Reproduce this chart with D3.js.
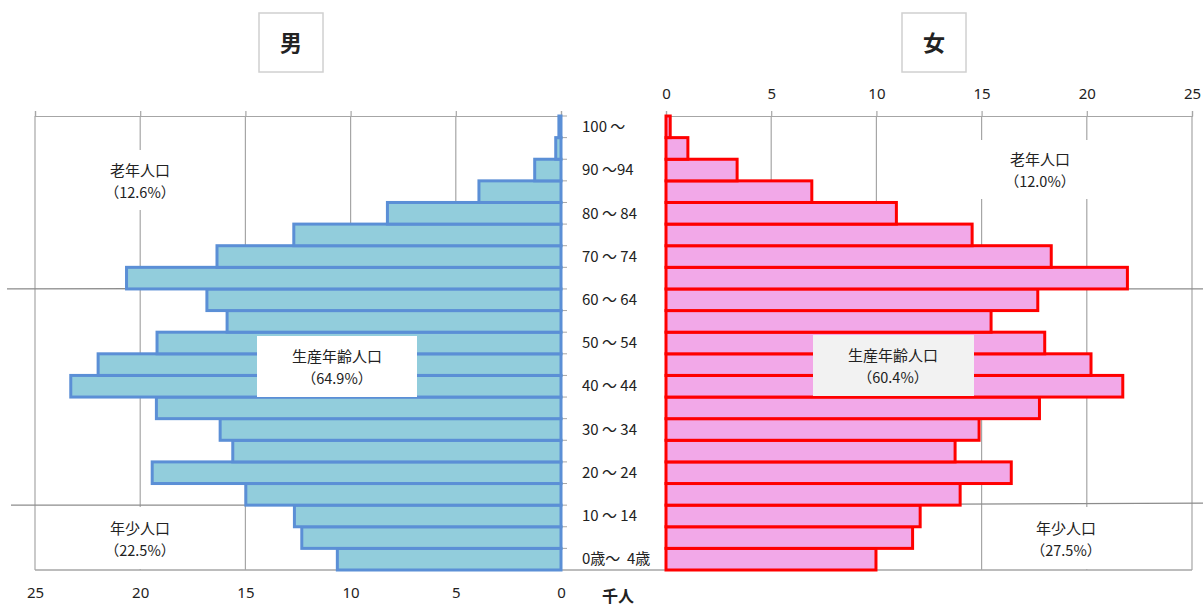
<!DOCTYPE html>
<html>
<head>
<meta charset="utf-8">
<script src="https://cdn.jsdelivr.net/npm/d3@7"></script>
<style>
  body { margin: 0; background: #fff; }
  text { font-family: "Noto Sans CJK JP", "Noto Sans", sans-serif; fill: #222; white-space: pre; }
</style>
</head>
<body>
<div id="chart"></div>
<script>

// age groups, bottom to top
var ageGroups = ["0-4", "5-9", "10-14", "15-19", "20-24", "25-29", "30-34", "35-39", "40-44", "45-49",
  "50-54", "55-59", "60-64", "65-69", "70-74", "75-79", "80-84", "85-89", "90-94", "95-99", "100+"]
// text shown next to every other group
var ageText = {"0-4": "0歳～  4歳", "10-14": "10 ～ 14", "20-24": "20 ～ 24", "30-34": "30 ～ 34",
  "40-44": "40 ～ 44", "50-54": "50 ～ 54", "60-64": "60 ～ 64", "70-74": "70 ～ 74",
  "80-84": "80 ～ 84", "90-94": "90 ～94", "100+": "100 ～"}

// thousands of people
var male = [10.63, 12.32, 12.67, 14.98, 19.43, 15.6, 16.2, 19.23, 23.3, 22.0,
  19.2, 15.87, 16.83, 20.65, 16.35, 12.7, 8.25, 3.9, 1.25, 0.25, 0.1]
var female = [9.98, 11.72, 12.08, 13.98, 16.41, 13.74, 14.88, 17.75, 21.71, 20.2,
  18.0, 15.45, 17.67, 21.93, 18.31, 14.55, 10.95, 6.93, 3.38, 1.04, 0.2]

var tickValues = [0, 5, 10, 15, 20, 25]

// region notes: [label, share]
var maleNotes = [["老年人口", "（12.6%）"], ["生産年齢人口", "（64.9%）"], ["年少人口", "（22.5%）"]]
var femaleNotes = [["老年人口", "（12.0%）"], ["生産年齢人口", "（60.4%）"], ["年少人口", "（27.5%）"]]

var W = 1203, H = 608
var plotTop = 116, plotBottom = 570

var svg = d3.select("#chart").append("svg")
  .attr("width", W).attr("height", H)

var xL = d3.scaleLinear().domain([25, 0]).range([35, 561])
var xR = d3.scaleLinear().domain([0, 25]).range([666, 1192])
var y = d3.scaleBand().domain(ageGroups.slice().reverse()).range([plotTop, plotBottom]).padding(0)

var gridColor = "#a6a6a6"

// vertical grid lines
svg.append("g").selectAll("line").data(tickValues).enter().append("line")
  .attr("x1", d => xL(d)).attr("x2", d => xL(d))
  .attr("y1", plotTop).attr("y2", plotBottom)
  .attr("stroke", gridColor).attr("stroke-width", 1.2)
svg.append("g").selectAll("line").data(tickValues).enter().append("line")
  .attr("x1", d => xR(d)).attr("x2", d => xR(d))
  .attr("y1", plotTop).attr("y2", plotBottom)
  .attr("stroke", gridColor).attr("stroke-width", 1.2)

// top axes (left without labels, right with labels)
var axL = svg.append("g").attr("transform", "translate(0," + plotTop + ")")
  .call(d3.axisTop(xL).tickValues(tickValues).tickSize(5).tickFormat(""))
var axR = svg.append("g").attr("transform", "translate(0," + plotTop + ")")
  .call(d3.axisTop(xR).tickValues(tickValues).tickSize(5).tickPadding(12))
// bottom labels of the left side
var axB = svg.append("g").attr("transform", "translate(0," + plotBottom + ")")
  .call(d3.axisBottom(xL).tickValues(tickValues).tickSize(0).tickPadding(17))
axB.select(".domain").remove()
;[axL, axR, axB].forEach(function (a) {
  a.selectAll(".domain, line").attr("stroke", gridColor).attr("stroke-width", 1.2)
  a.selectAll("text").style("font-family", "'Noto Sans', sans-serif").style("font-size", "15px").attr("fill", "#222")
})

// bottom line runs across both sides
svg.append("line").attr("x1", 35).attr("x2", 1192).attr("y1", plotBottom).attr("y2", plotBottom)
  .attr("stroke", gridColor).attr("stroke-width", 1.5)

// small ticks at group boundaries, right of the male side
svg.append("g").selectAll("line").data(ageGroups).enter().append("line")
  .attr("x1", 561).attr("x2", 567)
  .attr("y1", d => y(d)).attr("y2", d => y(d))
  .attr("stroke", gridColor)

// region dividers (old / working / young)
var divider = svg.append("g").attr("stroke", "#8c8c8c").attr("stroke-width", 1.3)
var yOld = y("65-69") + y.bandwidth(), yYoung = y("15-19") + y.bandwidth()
divider.append("line").attr("x1", 7).attr("x2", 561).attr("y1", yOld).attr("y2", yOld - 1)
divider.append("line").attr("x1", 666).attr("x2", 1203).attr("y1", yOld).attr("y2", yOld)
divider.append("line").attr("x1", 11).attr("x2", 561).attr("y1", yYoung).attr("y2", yYoung)
divider.append("line").attr("x1", 666).attr("x2", 1203).attr("y1", yYoung).attr("y2", yYoung - 2)

// bars
svg.append("g").selectAll("rect").data(male).enter().append("rect")
  .attr("x", d => xL(d)).attr("width", d => xL(0) - xL(d))
  .attr("y", (d, i) => y(ageGroups[i])).attr("height", y.bandwidth())
  .attr("fill", "#92cddc").attr("stroke", "#5b8fd6").attr("stroke-width", 3)
svg.append("g").selectAll("rect").data(female).enter().append("rect")
  .attr("x", xR(0)).attr("width", d => xR(d) - xR(0))
  .attr("y", (d, i) => y(ageGroups[i])).attr("height", y.bandwidth())
  .attr("fill", "#f2a8e8").attr("stroke", "#ff0000").attr("stroke-width", 3)

// age labels
svg.append("g").selectAll("text").data(ageGroups.filter(d => ageText[d])).enter().append("text")
  .attr("x", 582).attr("y", d => y(d) + y.bandwidth() / 2)
  .attr("dy", "0.35em").style("font-size", "15px")
  .text(d => ageText[d])

// note boxes
function note(n, cx, cy, box, fill) {
  svg.append("rect").attr("x", box[0]).attr("y", box[1]).attr("width", box[2]).attr("height", box[3])
    .attr("fill", fill)
  svg.append("text").attr("x", cx).attr("y", cy).attr("text-anchor", "middle")
    .attr("dy", "0.35em").style("font-size", "15px").text(n[0])
  svg.append("text").attr("x", cx).attr("y", cy + 22).attr("text-anchor", "middle")
    .attr("dy", "0.35em").style("font-size", "14.5px").text(n[1])
}
note(maleNotes[0], 140, 171, [95, 150, 90, 60], "#fff")
note(maleNotes[1], 337, 357, [257, 336, 160, 61], "#fff")
note(maleNotes[2], 140, 529, [59, 507, 161, 62], "#fff")
note(femaleNotes[0], 1040, 160, [976, 140, 125, 59], "#fff")
note(femaleNotes[1], 893, 356, [813, 335, 161, 61], "#f2f2f2")
note(femaleNotes[2], 1066, 529, [987, 507, 161, 62], "#fff")

// sex title boxes
function title(t, cx) {
  svg.append("rect").attr("x", cx - 32).attr("y", 13).attr("width", 64).attr("height", 59)
    .attr("fill", "#fff").attr("stroke", "#d0d0d0").attr("stroke-width", 1.5)
  svg.append("text").attr("x", cx).attr("y", 43).attr("dy", "0.35em").attr("text-anchor", "middle")
    .style("font-size", "22px").style("font-weight", "bold").attr("fill", "#000").text(t)
}
title("男", 291)
title("女", 934)

// unit
svg.append("text").attr("x", 618).attr("y", 596).attr("dy", "0.35em").attr("text-anchor", "middle")
  .style("font-size", "16px").style("font-weight", "bold").attr("fill", "#000").text("千人")

</script>
</body>
</html>
